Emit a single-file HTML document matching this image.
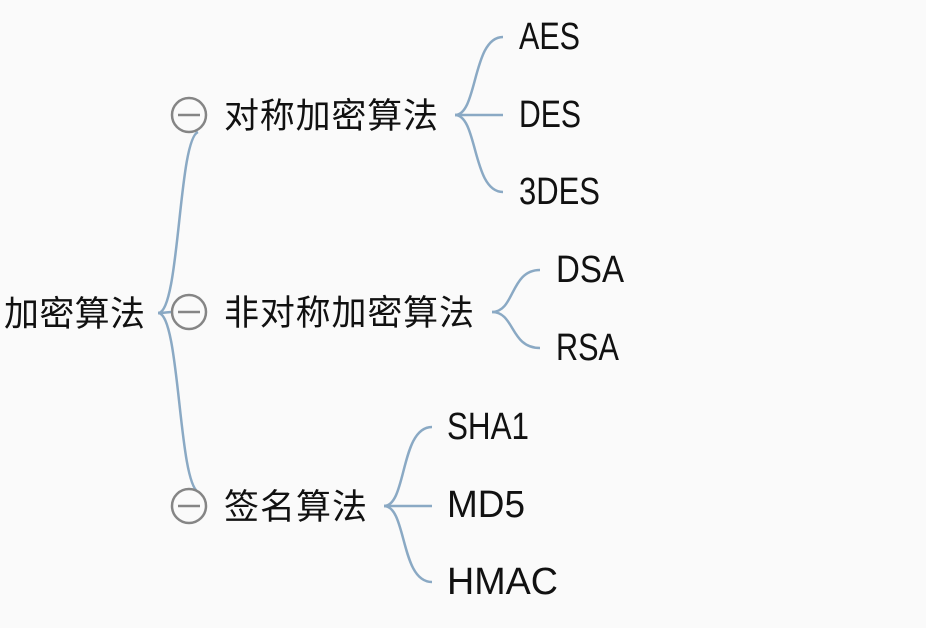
<!DOCTYPE html>
<html><head><meta charset="utf-8"><style>
html,body{margin:0;padding:0;background:#fafafa;}
svg{display:block}
text{font-family:"Liberation Sans","Noto Sans CJK SC",sans-serif;fill:#111;}
</style></head><body>
<svg width="926" height="628" viewBox="0 0 926 628">
<g fill="none" stroke="#8aa9c4" stroke-width="2.5">
<path d="M158 313 C180 313 178 140 198 132"/>
<path d="M158 313 C165 313 168 312 172 312"/>
<path d="M158 313 C180 313 178 480 198 492"/>
<path d="M455 115 C478 115 472 37 503 37"/>
<path d="M455 115 L503 115"/>
<path d="M455 115 C478 115 472 192 503 192"/>
<path d="M492 312 C515 312 510 270 540 270"/>
<path d="M492 312 C515 312 510 348 540 348"/>
<path d="M384 506 C407 506 400 427 432 427"/>
<path d="M384 506 L432 506"/>
<path d="M384 506 C407 506 400 582 432 582"/>
</g>
<g fill="#fafafa" stroke="#858585" stroke-width="2.5">
<circle cx="189" cy="115" r="17"/>
<circle cx="189" cy="312" r="17"/>
<circle cx="189" cy="506" r="17"/>
</g>
<g stroke="#858585" stroke-width="2.5">
<line x1="178" y1="115" x2="200" y2="115"/>
<line x1="178" y1="312" x2="200" y2="312"/>
<line x1="178" y1="506" x2="200" y2="506"/>
</g>
<g font-size="35">
<text x="4" y="326" textLength="141">加密算法</text>
<text x="224" y="128" textLength="214">对称加密算法</text>
<text x="224" y="325" textLength="250">非对称加密算法</text>
<text x="224" y="519" textLength="143">签名算法</text>
</g>
<g font-size="38" lengthAdjust="spacingAndGlyphs">
<text x="519" y="49" textLength="61" lengthAdjust="spacingAndGlyphs">AES</text>
<text x="519" y="127" textLength="62" lengthAdjust="spacingAndGlyphs">DES</text>
<text x="519" y="204" textLength="81" lengthAdjust="spacingAndGlyphs">3DES</text>
<text x="556" y="282" textLength="68" lengthAdjust="spacingAndGlyphs">DSA</text>
<text x="556" y="360" textLength="63" lengthAdjust="spacingAndGlyphs">RSA</text>
<text x="447" y="439" textLength="82" lengthAdjust="spacingAndGlyphs">SHA1</text>
<text x="447" y="517" textLength="78" lengthAdjust="spacingAndGlyphs">MD5</text>
<text x="447" y="594" textLength="111" lengthAdjust="spacingAndGlyphs">HMAC</text>
</g>
</svg>
</body></html>
